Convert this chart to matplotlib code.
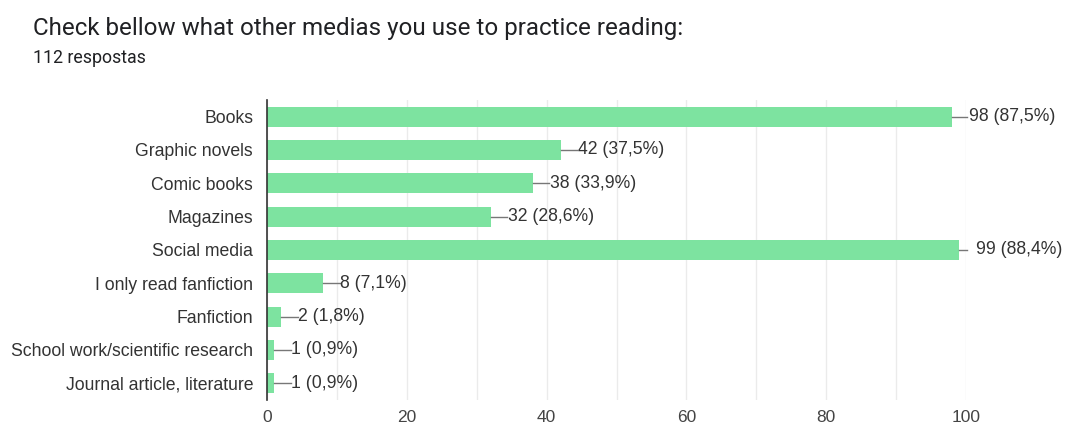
import matplotlib.pyplot as plt
import numpy as np

categories = ["Books", "Graphic novels", "Comic books", "Magazines", "Social media",
              "I only read fanfiction", "Fanfiction", "School work/scientific research",
              "Journal article, literature"]
counts = [98, 42, 38, 32, 99, 8, 2, 1, 1]
percents = ["87,5%", "37,5%", "33,9%", "28,6%", "88,4%", "7,1%", "1,8%", "0,9%", "0,9%"]
xticks = [0, 20, 40, 60, 80, 100]

plt.rcParams['font.family'] = ['Liberation Sans', 'DejaVu Sans']

fig = plt.figure(figsize=(10.65, 4.28), dpi=100)
ax = fig.add_axes([267 / 1065, 1 - 400 / 428, (966 - 267) / 1065, 300 / 428])

y = np.arange(len(categories))
ax.barh(y, counts, height=0.6, color='#7de3a0', zorder=2)

# leader line + label for every bar
for yi, c, p in zip(y, counts, percents):
    end = min(c + 2.4, 100.2)
    ax.plot([c, end], [yi, yi], color='#777777', lw=1, zorder=3, clip_on=False)
    ax.text(c + 2.5, yi, f"{c} ({p})", va='center', ha='left', fontsize=12.7, color='#333333')

ax.set_xlim(0, 100)
ax.set_ylim(len(categories) - 0.5, -0.5)
ax.set_yticks(y)
ax.set_yticklabels(categories, fontsize=12.7, color='#333333')
ax.set_xticks(xticks)
ax.set_xticklabels([str(t) for t in xticks], fontsize=12.5, color='#444444')
ax.set_xticks(np.arange(10, 100, 20), minor=True)
ax.grid(axis='x', which='both', color='#ebebeb', lw=1, zorder=0)
ax.tick_params(axis='both', which='both', length=0)
ax.tick_params(axis='y', pad=10)
ax.tick_params(axis='x', pad=7)
for s in ['top', 'right', 'bottom']:
    ax.spines[s].set_visible(False)
ax.spines['left'].set_color('#333333')
ax.spines['left'].set_linewidth(1.2)

fig.text(33 / 1065, 1 - 28 / 428, "Check bellow what other medias you use to practice reading:",
         fontsize=17.4, color='#202124', va='center', ha='left', family='Roboto')
fig.text(33 / 1065, 1 - 58 / 428, "112 respostas", fontsize=12.8, color='#202124',
         va='center', ha='left', family='Roboto')

fig.savefig("out.png", dpi=100, facecolor='white')
